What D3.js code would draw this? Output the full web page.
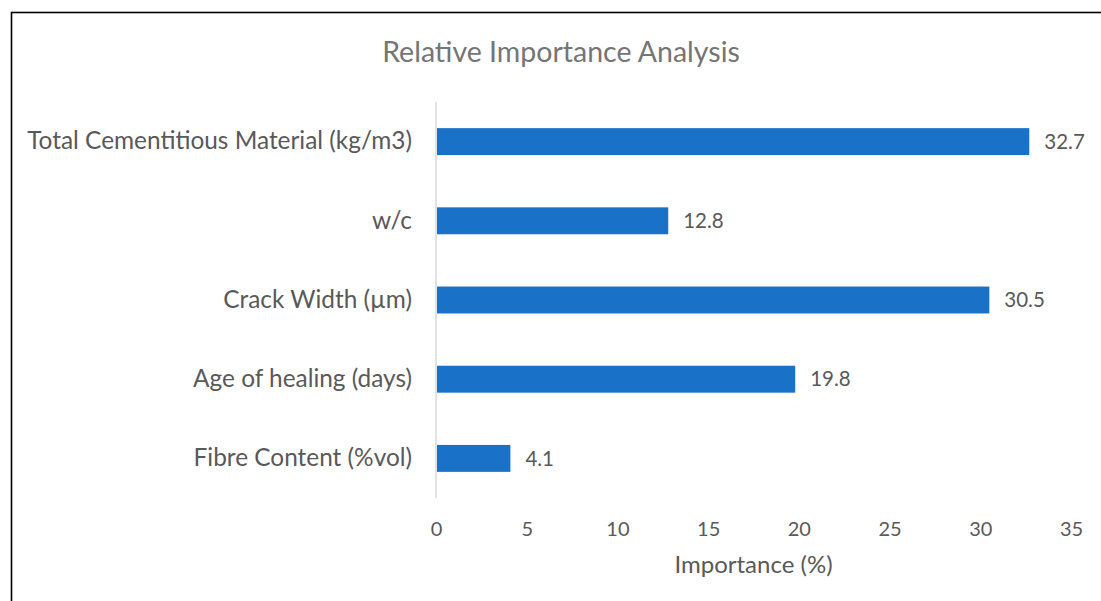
<!DOCTYPE html>
<html>
<head>
<meta charset="utf-8">
<script src="https://cdn.jsdelivr.net/npm/d3@7"></script>
<style>
  body { margin: 0; background: #fff; }
  text { font-family: Lato, "Noto Sans", sans-serif; }
</style>
</head>
<body>
<svg id="chart" width="1101" height="601"></svg>
<script>
var categories = ["Total Cementitious Material (kg/m3)", "w/c", "Crack Width (\u00b5m)", "Age of healing (days)", "Fibre Content (%vol)"]
var importance = [32.7, 12.8, 30.5, 19.8, 4.1]
var xTicks = [0, 5, 10, 15, 20, 25, 30, 35]

var svg = d3.select("#chart")
var plotLeft = 436, plotRight = 1071, plotTop = 102, plotBottom = 498

// chart frame, runs off the right and bottom edge like the source
svg.append("rect")
    .attr("x", 11.5)
    .attr("y", 12.5)
    .attr("width", 1200)
    .attr("height", 700)
    .style("fill", "none")
    .style("stroke", "#000")
    .style("stroke-width", 1.6)

var x = d3.scaleLinear().domain([0, 35]).range([plotLeft, plotRight])
var y = d3.scaleBand().domain(categories).range([plotTop, plotBottom])
    .paddingInner(0.66).paddingOuter(0.33)

svg.append("text")
    .attr("x", 561)
    .attr("y", 62)
    .attr("text-anchor", "middle")
    .style("font-size", "28.5px")
    .style("fill", "#757575")
    .text("Relative Importance Analysis")

var xAxis = svg.append("g")
    .attr("transform", "translate(0," + (plotBottom + 21) + ")")
    .call(d3.axisBottom(x).tickValues(xTicks).tickSize(0))
xAxis.select(".domain").remove()
xAxis.selectAll("text")
    .style("font-size", "20px")
    .style("fill", "#595959")

var yAxis = svg.append("g")
    .attr("transform", "translate(" + plotLeft + ",0)")
    .call(d3.axisLeft(y).tickSize(0).tickPadding(24))
yAxis.select(".domain").remove()
yAxis.selectAll("text")
    .style("font-size", "24.4px")
    .style("fill", "#595959")

svg.append("line")
    .attr("x1", plotLeft).attr("x2", plotLeft)
    .attr("y1", plotTop).attr("y2", plotBottom)
    .style("stroke", "#d9d9d9")
    .style("stroke-width", 1.5)

svg.selectAll(".bar")
    .data(categories)
    .enter()
    .append("rect")
    .attr("class", "bar")
    .attr("x", x(0) + 1)
    .attr("y", function (d) { return y(d) })
    .attr("width", function (d, i) { return x(importance[i]) - x(0) - 1 })
    .attr("height", y.bandwidth())
    .style("fill", "#1a71c8")

svg.selectAll(".valueLabel")
    .data(categories)
    .enter()
    .append("text")
    .attr("class", "valueLabel")
    .attr("x", function (d, i) { return x(importance[i]) + 15 })
    .attr("y", function (d) { return y(d) + y.bandwidth() / 2 })
    .attr("dy", "0.35em")
    .style("font-size", "20.5px")
    .style("fill", "#595959")
    .text(function (d, i) { return importance[i].toFixed(1) })

svg.append("text")
    .attr("x", (plotLeft + plotRight) / 2)
    .attr("y", 573)
    .attr("text-anchor", "middle")
    .style("font-size", "24px")
    .style("fill", "#595959")
    .text("Importance (%)")
</script>
</body>
</html>
